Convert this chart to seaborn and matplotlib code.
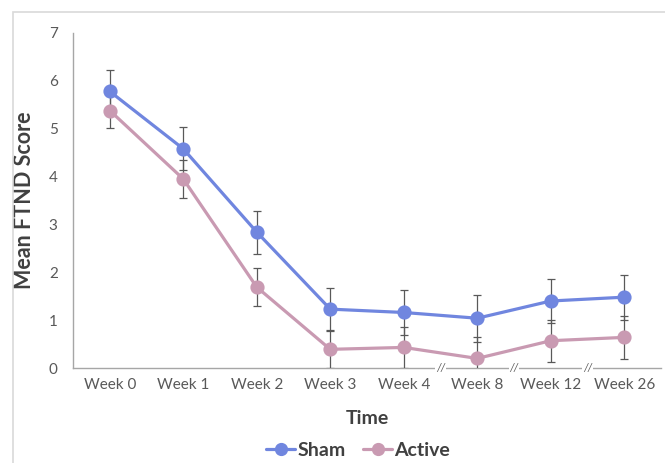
import matplotlib
matplotlib.use("Agg")
import matplotlib.pyplot as plt
import matplotlib.patches as mpatches
from matplotlib.lines import Line2D
import numpy as np
import pandas as pd
import seaborn as sns

# Mean FTND scores by time point with standard error
weeks = ["Week 0", "Week 1", "Week 2", "Week 3", "Week 4", "Week 8", "Week 12", "Week 26"]
sham_mean = [5.78, 4.58, 2.84, 1.23, 1.16, 1.04, 1.40, 1.48]
sham_err = [0.45, 0.45, 0.45, 0.45, 0.46, 0.49, 0.47, 0.47]
active_mean = [5.38, 3.95, 1.69, 0.39, 0.43, 0.20, 0.57, 0.64]
active_err = [0.37, 0.40, 0.39, 0.40, 0.42, 0.45, 0.44, 0.45]
groups = ["Sham", "Active"]
y_ticks = [0, 1, 2, 3, 4, 5, 6, 7]

SHAM_COLOR = "#7086DF"
ACTIVE_COLOR = "#C99AB2"
ERR_COLOR = "#595959"
TEXT_COLOR = "#595959"
LABEL_COLOR = "#404040"

sns.set_theme(style="white")
plt.rcParams["font.family"] = ["Lato", "DejaVu Sans"]

df = pd.DataFrame({
    "Time": weeks * 2,
    "Score": sham_mean + active_mean,
    "Group": ["Sham"] * len(weeks) + ["Active"] * len(weeks),
})

fig = plt.figure(figsize=(6.65, 4.63), dpi=100)
ax = fig.add_axes([73 / 665, 95 / 463, 588 / 665, 335 / 463])

# outer chart frame
frame = mpatches.Rectangle((13 / 665, -0.1), 1.2, (463 - 12) / 463 + 0.1,
                           transform=fig.transFigure, fill=False,
                           edgecolor="#D9D9D9", linewidth=1.2, zorder=0)
fig.patches.append(frame)

pos = np.arange(len(weeks))
for means, errs in [(sham_mean, sham_err), (active_mean, active_err)]:
    ax.errorbar(pos, means, yerr=errs, fmt="none", ecolor=ERR_COLOR,
                elinewidth=0.9, capsize=3.2, capthick=0.9, zorder=1)

sns.pointplot(data=df, x="Time", y="Score", hue="Group", order=weeks,
              hue_order=groups, palette=[SHAM_COLOR, ACTIVE_COLOR],
              errorbar=None, markers="o", linestyles="-", markersize=8.5,
              linewidth=2.3, dodge=False, ax=ax, zorder=3)
for coll in ax.collections:
    coll.set_zorder(3)
for ln in ax.lines:
    if ln.get_linewidth() > 2:
        ln.set_zorder(3)

ax.set_xlim(-0.5, len(weeks) - 0.5)
ax.set_ylim(0, 7)
ax.set_yticks(y_ticks)
ax.set_yticklabels([str(t) for t in y_ticks])
ax.tick_params(axis="both", length=0, labelsize=11, labelcolor=TEXT_COLOR)
ax.tick_params(axis="y", pad=11)
ax.tick_params(axis="x", pad=7)

for side in ["top", "right"]:
    ax.spines[side].set_visible(False)
for side in ["left", "bottom"]:
    ax.spines[side].set_color("#A6A6A6")
    ax.spines[side].set_linewidth(1.0)

ax.set_xlabel("Time", fontsize=14, fontweight="bold", color=LABEL_COLOR, labelpad=13)
ax.set_ylabel("Mean FTND Score", fontsize=15.5, fontweight="bold", color=LABEL_COLOR)
ax.yaxis.set_label_coords(-38 / 588, 0.5)

# axis break marks between non-consecutive time points
for bx in [4.5, 5.5, 6.5]:
    ax.text(bx, 0, "//", ha="center", va="center", fontsize=8, style="italic",
            color=TEXT_COLOR, clip_on=False, zorder=5,
            bbox=dict(boxstyle="square,pad=0.05", facecolor="white", edgecolor="none"))

ax.get_legend().remove()
handles = [Line2D([0], [0], color=c, marker="o", markersize=8.5, linewidth=2.3)
           for c in [SHAM_COLOR, ACTIVE_COLOR]]
leg = fig.legend(handles, groups, loc="center", bbox_to_anchor=(358 / 665, 1 - 450 / 463),
                 ncol=2, frameon=False, handlelength=1.5, handletextpad=0.1,
                 columnspacing=0.9, prop={"weight": "bold", "size": 14})
for t in leg.get_texts():
    t.set_color(LABEL_COLOR)

fig.savefig("out.png", dpi=100, facecolor="white")
